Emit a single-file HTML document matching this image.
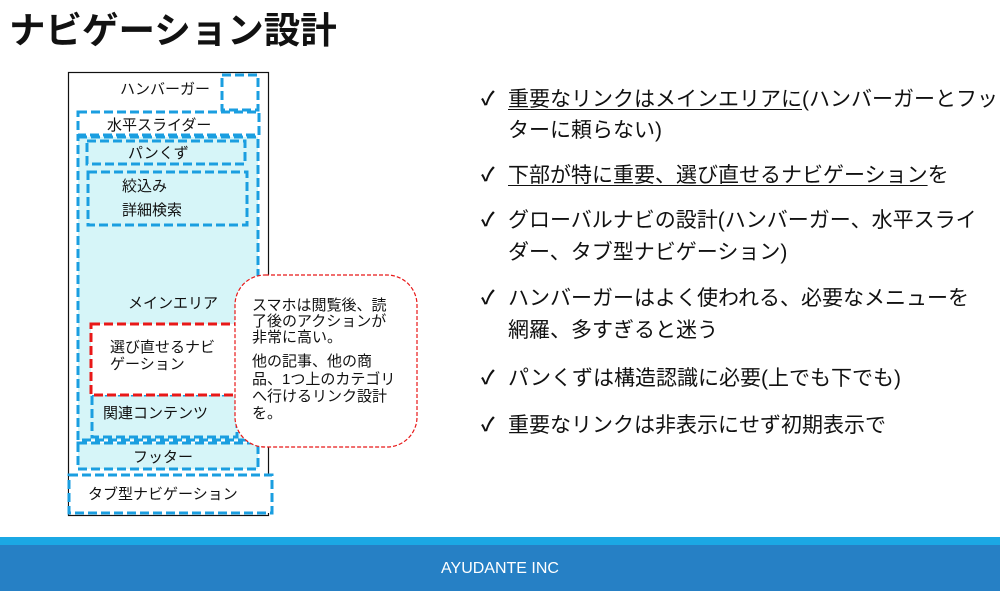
<!DOCTYPE html>
<html><head><meta charset="utf-8">
<style>
html,body{margin:0;padding:0;}
body{width:1000px;height:591px;position:relative;overflow:hidden;background:#fff;font-family:"Liberation Sans","Noto Sans CJK JP",sans-serif;color:#111;}
.t{position:absolute;white-space:nowrap;line-height:1;}
.title{left:9px;top:13px;font-size:36.5px;font-weight:bold;}
.b{font-size:21px;}
.ck{position:absolute;left:481px;font-size:19px;font-weight:bold;}
u{text-decoration:underline;text-underline-offset:3px;text-decoration-thickness:1px;}
svg text{font-family:"Liberation Sans","Noto Sans CJK JP",sans-serif;fill:#111;}
.bar1{position:absolute;left:0;top:537px;width:1000px;height:8px;background:#1ba8e4;}
.bar2{position:absolute;left:0;top:545px;width:1000px;height:46px;background:#2680c5;color:#fff;font-size:16px;text-align:center;line-height:48px;}
</style></head><body>
<div class="t title">ナビゲーション設計</div>

<svg width="440" height="530" style="position:absolute;left:0;top:0" xmlns="http://www.w3.org/2000/svg">
<rect x="68.5" y="72.5" width="200" height="443" fill="#fff" stroke="#111" stroke-width="1.2"/>
<g stroke="#1a9ee0" stroke-width="3" stroke-dasharray="9,4" fill="none">
<rect x="222" y="75" width="36" height="35" fill="#fff"/>
<rect x="78" y="112" width="181" height="23" fill="#fff"/>
<rect x="78" y="137" width="180" height="303" fill="#d6f5f8"/>
<rect x="87" y="141" width="158" height="23"/>
<rect x="88" y="172" width="159" height="53"/>
<rect x="92" y="395" width="145" height="42"/>
<rect x="78" y="443" width="180" height="26" fill="#d6f5f8"/>
<rect x="69" y="475" width="203" height="38" fill="#fff"/>
</g>
<rect x="91" y="324" width="146" height="71" fill="#fff" stroke="#e81818" stroke-width="3" stroke-dasharray="9,4"/>
<rect x="235" y="275" width="182" height="172" rx="30" ry="30" fill="#fff" stroke="#e81818" stroke-width="1.2" stroke-dasharray="4,2"/>
<text x="120" y="94" font-size="15">ハンバーガー</text>
<text x="107" y="130" font-size="15">水平スライダー</text>
<text x="128" y="158" font-size="15">パンくず</text>
<text x="122" y="191" font-size="15">絞込み</text>
<text x="122" y="215" font-size="15">詳細検索</text>
<text x="128" y="308" font-size="15">メインエリア</text>
<text x="110" y="352" font-size="15">選び直せるナビ</text>
<text x="110" y="369" font-size="15">ゲーション</text>
<text x="103" y="418" font-size="15">関連コンテンツ</text>
<text x="133" y="462" font-size="15">フッター</text>
<text x="88" y="499" font-size="15">タブ型ナビゲーション</text>
<g font-size="15">
<text x="252" y="310">スマホは閲覧後、読</text>
<text x="252" y="326">了後のアクションが</text>
<text x="252" y="342">非常に高い。</text>
<text x="252" y="366">他の記事、他の商</text>
<text x="252" y="384">品、1つ上のカテゴリ</text>
<text x="252" y="401">へ行けるリンク設計</text>
<text x="252" y="418">を。</text>
</g>
</svg>

<div class="t ck" style="top:90px">✓</div>
<div class="t b" style="left:508px;top:89px"><u>重要なリンクはメインエリアに</u>(ハンバーガーとフッ</div>
<div class="t b" style="left:508px;top:120px">ターに頼らない)</div>
<div class="t ck" style="top:166px">✓</div>
<div class="t b" style="left:508px;top:165px"><u>下部が特に重要、選び直せるナビゲーション</u>を</div>
<div class="t ck" style="top:211px">✓</div>
<div class="t b" style="left:508px;top:210px">グローバルナビの設計(ハンバーガー、水平スライ</div>
<div class="t b" style="left:508px;top:242px">ダー、タブ型ナビゲーション)</div>
<div class="t ck" style="top:289px">✓</div>
<div class="t b" style="left:508px;top:288px">ハンバーガーはよく使われる、必要なメニューを</div>
<div class="t b" style="left:508px;top:320px">網羅、多すぎると迷う</div>
<div class="t ck" style="top:369px">✓</div>
<div class="t b" style="left:508px;top:368px">パンくずは構造認識に必要(上でも下でも)</div>
<div class="t ck" style="top:416px">✓</div>
<div class="t b" style="left:508px;top:415px">重要なリンクは非表示にせず初期表示で</div>

<div class="bar1"></div>
<div class="bar2">AYUDANTE INC</div>
</body></html>
